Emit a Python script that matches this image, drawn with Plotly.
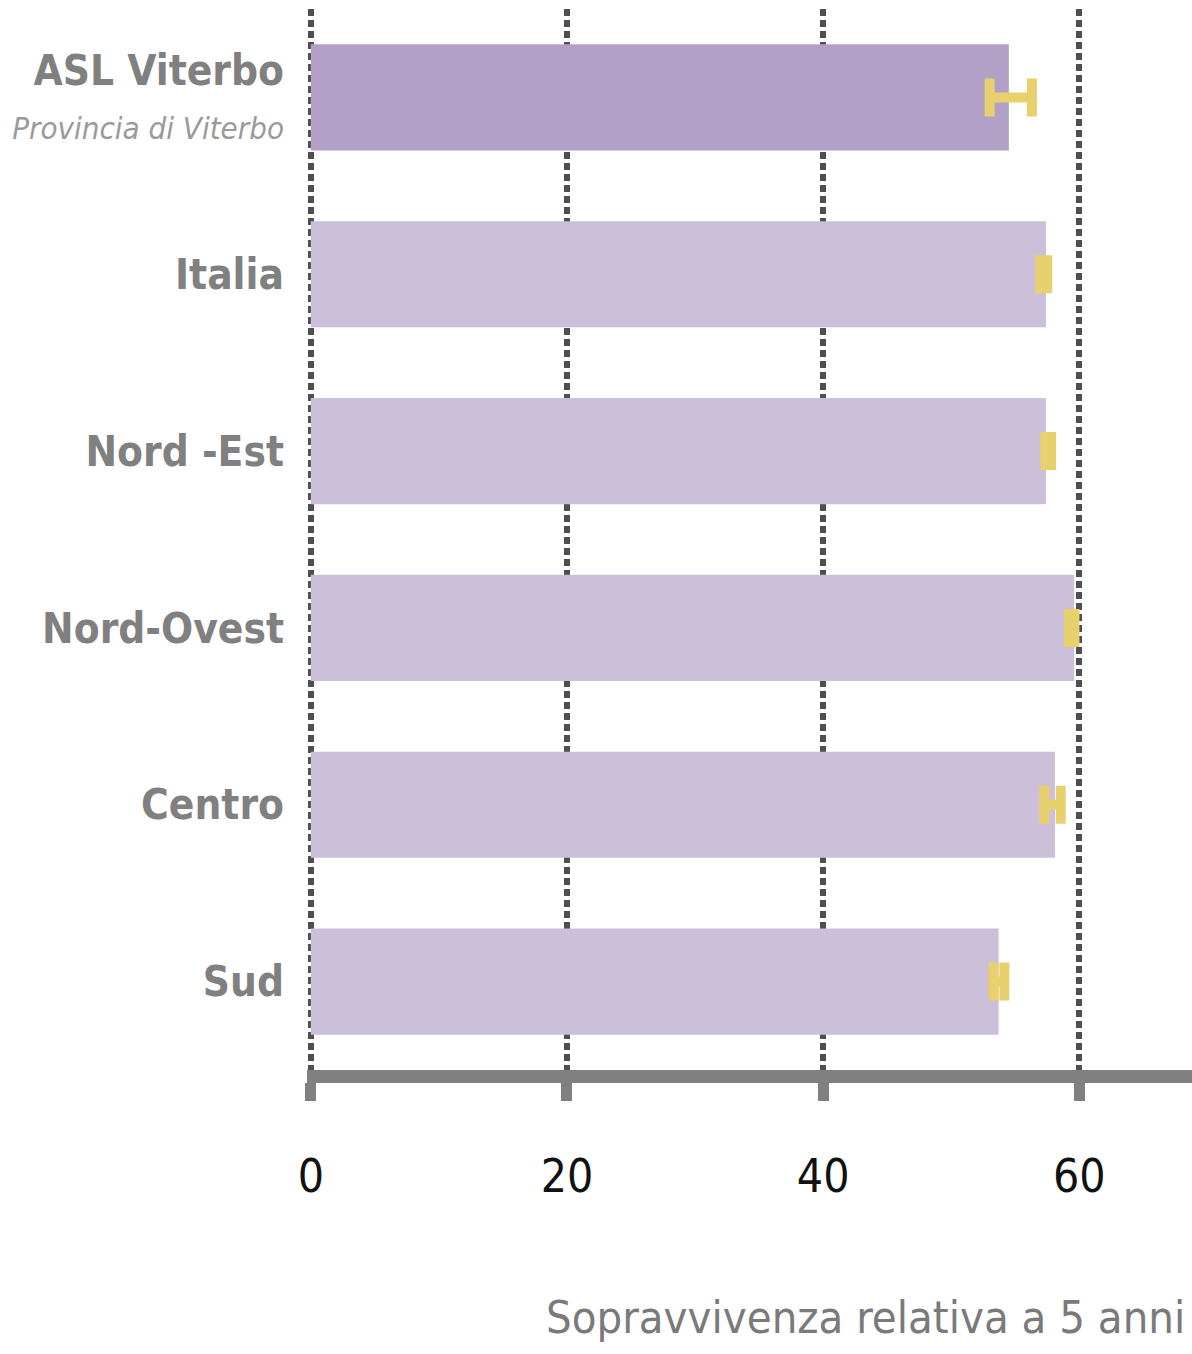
import plotly.graph_objects as go

categories = ["ASL Viterbo", "Italia", "Nord -Est", "Nord-Ovest", "Centro", "Sud"]
subtitle_asl = "Provincia di Viterbo"
values = [54.5, 57.4, 57.4, 59.6, 58.1, 53.7]
err_plus = [1.8, 0.1, 0.4, 0.02, 0.45, 0.45]
err_minus = [1.5, 0.45, 0.05, 0.4, 0.83, 0.4]
tick_vals = [0, 20, 40, 60]
x_title = "Sopravvivenza relativa a 5 anni"

bar_colors = ["#b2a0c7"] + ["#ccbfda"] * (len(categories) - 1)

FONT = "DejaVu Sans Condensed, Liberation Sans Narrow, sans-serif"

ticktext = []
for i, c in enumerate(categories):
    if i == 0:
        ticktext.append(
            f"<b>{c}</b><br><span style='font-size:31px;color:#9a9a9a'><i>{subtitle_asl}</i></span>"
        )
    else:
        ticktext.append(f"<b>{c}</b>")

fig = go.Figure()
fig.add_trace(
    go.Bar(
        y=categories,
        x=values,
        orientation="h",
        width=0.6,
        marker=dict(color=bar_colors, line=dict(width=0)),
        error_x=dict(
            type="data",
            symmetric=False,
            array=err_plus,
            arrayminus=err_minus,
            color="#e8d16c",
            thickness=10,
            width=19,
        ),
        hoverinfo="skip",
    )
)

fig.update_layout(
    width=1192,
    height=1354,
    margin=dict(l=307, r=0, t=9, b=284),
    plot_bgcolor="white",
    paper_bgcolor="white",
    showlegend=False,
    font=dict(family=FONT),
)

fig.update_xaxes(
    range=[-0.3, 68.8],
    tickvals=tick_vals,
    ticktext=[str(v) for v in tick_vals],
    automargin=False,
    showgrid=True,
    gridcolor="#4f4f4f",
    gridwidth=6,
    griddash="7px,4px",
    zeroline=False,
    showline=True,
    linecolor="#808080",
    linewidth=13,
    ticks="outside",
    ticklen=18,
    tickwidth=11,
    tickcolor="#808080",
    tickfont=dict(family=FONT, size=46, color="#111111"),
    ticklabelstandoff=36,
)

fig.update_yaxes(
    categoryorder="array",
    categoryarray=categories,
    autorange="reversed",
    tickvals=categories,
    ticktext=ticktext,
    automargin=False,
    showgrid=False,
    zeroline=False,
    showline=False,
    ticks="",
    tickfont=dict(family=FONT, size=42, color="#808080"),
    ticklabelstandoff=22,
)

fig.add_annotation(
    text=x_title,
    xref="paper",
    yref="paper",
    x=0.994,
    y=-0.233,
    xanchor="right",
    yanchor="middle",
    showarrow=False,
    font=dict(family=FONT, size=45, color="#7a7a7a"),
)

fig.write_html(
    "out.html",
    config={"displayModeBar": False},
    post_script="document.body.style.margin='0';document.body.style.overflow='hidden';",
)
